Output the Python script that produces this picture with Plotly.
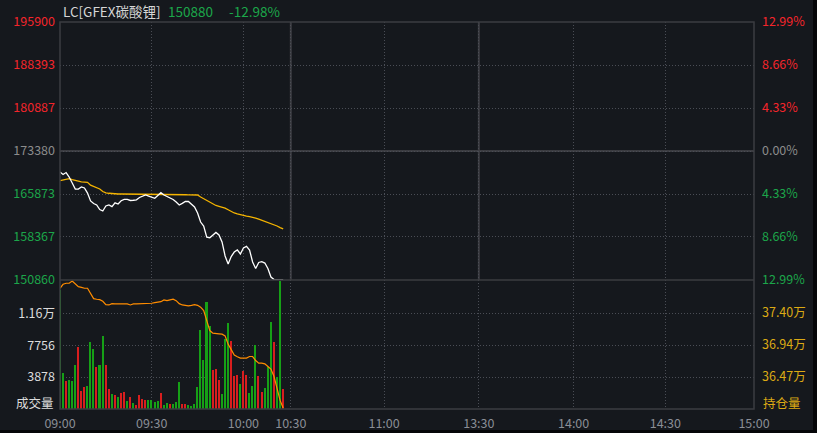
import plotly.graph_objects as go

# ---------------- data ----------------
symbol = "LC[GFEX碳酸锂]"
last_price = "150880"
last_change = "-12.98%"
base_price = 173380

time_labels = ["09:00", "09:30", "10:00", "10:30", "11:00", "13:30", "14:00", "14:30", "15:00"]
time_ticks = [0, 30, 60, 75.5, 106, 137, 168, 198, 227]

price_ticks = [150860, 158367, 165873, 173380, 180887, 188393, 195900]
pct_labels = ["12.99%", "8.66%", "4.33%", "0.00%", "4.33%", "8.66%", "12.99%"]
vol_ticks = [3878, 7756, 11634]
vol_labels = ["3878", "7756", "1.16万"]
oi_ticks = [364700, 369350, 374000]
oi_labels = ["36.47万", "36.94万", "37.40万"]

prices = [169710, 169280, 169620, 168840, 167800, 166740, 166740, 167100, 166920, 166040,
          164660, 164220, 163960, 163160, 162900, 163780, 163960, 163660, 164340, 164120,
          164700, 164920, 164920, 164740, 164780, 164860, 165260, 165520, 165700, 165520,
          165340, 165120, 165600, 166100, 165700, 165440, 165180, 164920, 164480, 163960,
          164240, 164560, 164560, 164040, 163600, 162560, 160980, 160280, 158320, 158240,
          158720, 159160, 158720, 157500, 155060, 153660, 154960, 155740, 156100, 155400,
          156440, 156740, 156100, 154000, 152860, 153920, 154060, 153820, 152860, 151380,
          150940, 150880, 150880, 150880]

avg_prices = [168200, 168350, 168510, 168560, 168370, 168210, 168020, 167990, 167950, 167900,
              167410, 167150, 166940, 166750, 166310, 166070, 166000, 165930, 165870, 165870,
              165870, 165870, 165870, 165870, 165870, 165870, 165870, 165870, 165870, 165870,
              165870, 165860, 165850, 165840, 165830, 165810, 165800, 165790, 165770, 165760,
              165750, 165740, 165730, 165720, 165710, 165700, 165350, 165050, 164740, 164440,
              164160, 163870, 163710, 163600, 163410, 163120, 162820, 162560, 162400, 162240,
              162090, 162000, 161910, 161820, 161670, 161490, 161300, 161130, 160950, 160760,
              160550, 160290, 160010, 159800]

open_interest = [377590, 378170, 378320, 378320, 378650, 378210, 377820, 377730, 377590, 377590,
                 376860, 376080, 375990, 375930, 375700, 375210, 375160, 375350, 375310, 375310,
                 375310, 375310, 375310, 375160, 375310, 375310, 375310, 375350, 375350, 375310,
                 375410, 375500, 375550, 375640, 375890, 375790, 375890, 375990, 375790, 375350,
                 375160, 375060, 375020, 375110, 375210, 375110, 374830, 374330, 372980, 371430,
                 371050, 370950, 370950, 370900, 370660, 369450, 368620, 367850, 367610, 367420,
                 367420, 367420, 367650, 367650, 367070, 366690, 366690, 366590, 366200, 365820,
                 364740, 363060, 361260, 360150]

volumes = [14460, 4360, 3345, 3550, 3345, 5370, 7590, 2130, 2620, 2740,
           8190, 7310, 5160, 5370, 8880, 5370, 2460, 1850, 1730, 1400,
           1940, 2100, 1000, 1400, 730, 440, 1730, 1250, 1130, 1130,
           1130, 880, 1000, 1940, 520, 760, 640, 640, 800, 3220,
           640, 640, 520, 320, 640, 2670, 9610, 5980, 13000, 10100,
           4680, 4920, 3550, 1850, 8560, 10500, 8310, 3950, 4160, 3070,
           4560, 4160, 1940, 2820, 7760, 4040, 2100, 2580, 5160, 10580,
           8190, 3830, 15600, 2460]

# 1 = up tick (red), -1 = down tick (green)
vol_dir = [-1, -1, 1, -1, -1, -1, 1, 1, 1, -1,
           -1, -1, 1, -1, -1, 1, 1, -1, 1, -1,
           1, 1, -1, 1, -1, 1, 1, 1, 1, -1,
           -1, -1, -1, 1, -1, -1, 1, -1, -1, -1,
           1, 1, -1, -1, -1, -1, -1, -1, -1, -1,
           1, 1, 1, -1, -1, -1, 1, 1, 1, -1,
           1, 1, -1, -1, -1, 1, 1, -1, -1, -1,
           1, -1, -1, 1]

minutes = list(range(len(prices)))

# ---------------- style ----------------
BG = "#15181d"
RED = "#f4252b"
GREEN = "#1ca64a"
BAR_RED = "#d81e1e"
BAR_GREEN = "#16a016"
GRAY = "#8c8c8c"
GOLD = "#dcaa14"
SOLID = "#3b3c41"
DOT = "#4a4d55"
FONT = "Noto Sans CJK SC, Noto Sans, sans-serif"

X_RANGE = [0, 227]
P_RANGE = [price_ticks[0] - 1, price_ticks[-1] + 1]
V_RANGE = [0, 15670]
OI_RANGE = [360007, 378794]
SPLIT = 129 / 387


def col(p):
    if p > base_price:
        return RED
    if p < base_price:
        return GREEN
    return GRAY


left_price_text = [f'<span style="color:{col(p)}">{p}</span>' for p in price_ticks]
right_pct_text = [f'<span style="color:{col(p)}">{t}</span>' for p, t in zip(price_ticks, pct_labels)]

fig = go.Figure()

fig.add_trace(go.Scatter(x=minutes, y=avg_prices, mode="lines",
                         line=dict(color="#f5b400", width=1.3),
                         xaxis="x", yaxis="y", hoverinfo="skip"))
fig.add_trace(go.Scatter(x=minutes, y=prices, mode="lines",
                         line=dict(color="#ffffff", width=1.3),
                         xaxis="x", yaxis="y", hoverinfo="skip"))
# invisible companion so the right-hand percentage axis is drawn
fig.add_trace(go.Scatter(x=minutes, y=prices, mode="lines", opacity=0,
                         line=dict(color=BG, width=0),
                         xaxis="x", yaxis="y2", hoverinfo="skip"))
fig.add_trace(go.Bar(x=minutes, y=volumes, width=0.5,
                     marker=dict(color=[BAR_RED if d > 0 else BAR_GREEN for d in vol_dir],
                                 line=dict(width=0)),
                     xaxis="x2", yaxis="y3", hoverinfo="skip"))
fig.add_trace(go.Scatter(x=minutes, y=open_interest, mode="lines",
                         line=dict(color="#ff8c00", width=1.2),
                         xaxis="x2", yaxis="y4", hoverinfo="skip"))

grid_dash = "1px,2px"
axis_font = dict(family=FONT, size=12.5)

fig.update_layout(
    width=817, height=433,
    margin=dict(l=60, r=63, t=22, b=24, autoexpand=False),
    paper_bgcolor=BG, plot_bgcolor=BG,
    showlegend=False,
    bargap=0,
    xaxis=dict(domain=[0, 1], range=X_RANGE, anchor="y", tickvals=time_ticks,
               showticklabels=False, showgrid=True, gridcolor=DOT, griddash=grid_dash,
               gridwidth=1, zeroline=False, showline=False, ticks="", automargin=False),
    xaxis2=dict(domain=[0, 1], range=X_RANGE, anchor="y3", tickvals=time_ticks,
                ticktext=time_labels, showgrid=True, gridcolor=DOT, griddash=grid_dash,
                zeroline=False, showline=False, ticks="", automargin=False,
                tickfont=dict(family=FONT, size=12.5, color="#8a8e96"), ticklabelstandoff=5),
    yaxis=dict(domain=[SPLIT, 1], range=P_RANGE, anchor="x", tickvals=price_ticks,
               ticktext=left_price_text, showgrid=True, gridcolor=DOT, griddash=grid_dash,
               zeroline=False, showline=False, ticks="", tickfont=axis_font,
               ticklabelstandoff=4, automargin=False),
    yaxis2=dict(domain=[SPLIT, 1], range=P_RANGE, anchor="x", overlaying="y", side="right",
                tickvals=price_ticks, ticktext=right_pct_text, showgrid=False,
                zeroline=False, showline=False, ticks="", tickfont=axis_font,
                ticklabelstandoff=7, automargin=False),
    yaxis3=dict(domain=[0, SPLIT], range=V_RANGE, anchor="x2", tickvals=vol_ticks,
                ticktext=vol_labels, showgrid=True, gridcolor=DOT, griddash=grid_dash,
                zeroline=False, showline=False, ticks="", automargin=False,
                tickfont=dict(family=FONT, size=12.5, color="#dcdcdc"), ticklabelstandoff=4),
    yaxis4=dict(domain=[0, SPLIT], range=OI_RANGE, anchor="x2", overlaying="y3", side="right",
                tickvals=oi_ticks, ticktext=oi_labels, showgrid=False, zeroline=False,
                showline=False, ticks="", tickfont=dict(family=FONT, size=12.5, color=GOLD),
                ticklabelstandoff=7, automargin=False),
)

shapes = [
    dict(type="line", xref="paper", x0=0, x1=1, yref="y", y0=base_price, y1=base_price,
         line=dict(color=SOLID, width=2), layer="below"),
    dict(type="line", xref="x", x0=time_ticks[3], x1=time_ticks[3], yref="y",
         y0=P_RANGE[0], y1=P_RANGE[1], line=dict(color=SOLID, width=2), layer="below"),
    dict(type="line", xref="x", x0=time_ticks[5], x1=time_ticks[5], yref="y",
         y0=P_RANGE[0], y1=P_RANGE[1], line=dict(color=SOLID, width=2), layer="below"),
    dict(type="line", xref="paper", x0=0, x1=1, yref="paper", y0=SPLIT, y1=SPLIT,
         line=dict(color=SOLID, width=1.5)),
    dict(type="rect", xref="paper", x0=0, x1=1, yref="paper", y0=0, y1=1,
         line=dict(color=SOLID, width=1.5)),
    dict(type="rect", xref="paper", x0=-0.1, x1=1.2, yref="paper", y0=-0.07, y1=(409 - 430) / 387,
         line=dict(width=0), fillcolor="#050608"),
    dict(type="rect", xref="paper", x0=(813 - 60) / 694, x1=1.2, yref="paper", y0=-0.1, y1=1.2,
         line=dict(width=0), fillcolor="#050608"),
]
fig.update_layout(shapes=shapes)

ann_font = dict(family=FONT, size=13.5)
annotations = [
    dict(xref="paper", yref="paper", x=(61 - 60) / 694, y=(409 - 11) / 387, xanchor="left",
         yanchor="middle", text=symbol, showarrow=False, font=dict(color="#d6d6d6", **ann_font)),
    dict(xref="paper", yref="paper", x=(166 - 60) / 694, y=(409 - 11) / 387, xanchor="left",
         yanchor="middle", text=last_price, showarrow=False, font=dict(color=GREEN, **ann_font)),
    dict(xref="paper", yref="paper", x=(227 - 60) / 694, y=(409 - 11) / 387, xanchor="left",
         yanchor="middle", text=last_change, showarrow=False, font=dict(color=GREEN, **ann_font)),
    dict(xref="paper", yref="paper", x=(56 - 60) / 694, y=(409 - 402) / 387, xanchor="right",
         yanchor="middle", text="成交量", showarrow=False,
         font=dict(family=FONT, size=12.5, color="#dcdcdc")),
    dict(xref="paper", yref="paper", x=(761 - 60) / 694, y=(409 - 402) / 387, xanchor="left",
         yanchor="middle", text="持仓量", showarrow=False,
         font=dict(family=FONT, size=12.5, color=GOLD)),
]
fig.update_layout(annotations=annotations)

fig.write_html("out.html", config={"displayModeBar": False},
               post_script="document.body.style.margin='0';")
